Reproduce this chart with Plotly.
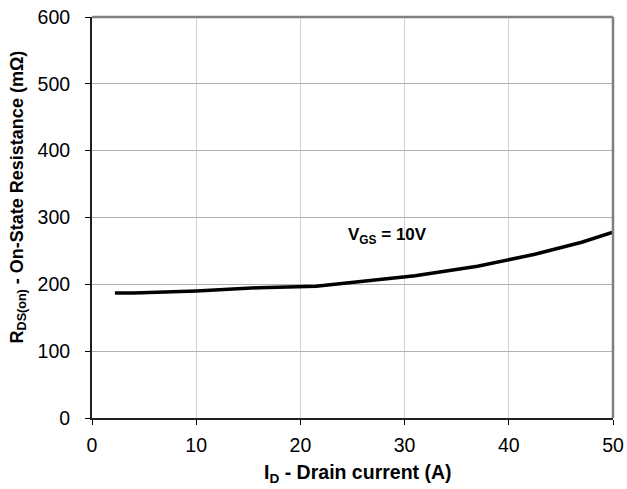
import plotly.graph_objects as go

id_current = [2.2, 4, 10, 16, 21.5, 26, 31, 37, 42.5, 47, 50]
rds_on = [187, 187, 190, 195, 197, 204, 213, 227, 245, 263, 278]
x_ticks = [0, 10, 20, 30, 40, 50]
y_ticks = [0, 100, 200, 300, 400, 500, 600]
x_title = "<b>I<sub>D</sub> - Drain current (A)</b>"
y_title = "<b>R<sub>DS(on)</sub> - On-State Resistance (mΩ)</b>"
curve_label = "<b>V<sub>GS</sub> = 10V</b>"

FONT = "Liberation Sans, Arial, sans-serif"

fig = go.Figure()
fig.add_trace(go.Scatter(x=id_current, y=rds_on, mode="lines",
                         line=dict(color="black", width=3.5), showlegend=False))

fig.add_annotation(x=28.4, y=273, text=curve_label, showarrow=False,
                   font=dict(family=FONT, size=17, color="black"))

# axis titles
fig.add_annotation(xref="paper", yref="paper", x=0.5106, y=0, yshift=-55,
                   xanchor="center", yanchor="middle", text=x_title, showarrow=False,
                   font=dict(family=FONT, size=19.5, color="black"))
fig.add_annotation(xref="paper", yref="paper", x=0, xshift=-74, y=0.55,
                   xanchor="center", yanchor="middle", textangle=-90, text=y_title,
                   showarrow=False, font=dict(family=FONT, size=18, color="black"))

# gray frame on top and right
fig.add_shape(type="line", xref="paper", yref="paper", x0=0, y0=1, x1=1, y1=1,
              line=dict(color="#808080", width=2.5), layer="above")
fig.add_shape(type="line", xref="paper", yref="paper", x0=1, y0=0, x1=1, y1=1,
              line=dict(color="#808080", width=2.5), layer="above")

fig.update_xaxes(range=[0, 50], tickvals=x_ticks, showgrid=True, gridcolor="#d0d0d0", gridwidth=1,
                 showline=True, linecolor="#202020", linewidth=2, ticks="outside", ticklen=5,
                 tickcolor="black", zeroline=False, automargin=False, layer="above traces",
                 tickfont=dict(size=19.5), ticklabelstandoff=4, ticklabeloverflow="allow")
fig.update_yaxes(range=[0, 600], tickvals=y_ticks, showgrid=True, gridcolor="#b0b0b0", gridwidth=1,
                 showline=True, linecolor="#202020", linewidth=2, ticks="outside", ticklen=5,
                 tickcolor="black", zeroline=False, automargin=False, layer="above traces",
                 tickfont=dict(size=19.5), ticklabelstandoff=11, ticklabeloverflow="allow")

fig.update_layout(width=627, height=489, margin=dict(l=92, r=14, t=17, b=71),
                  plot_bgcolor="white", paper_bgcolor="white",
                  font=dict(family=FONT, size=18, color="black"))

fig.write_html("out.html", config={"displayModeBar": False},
               post_script="document.body.style.margin='0';")
